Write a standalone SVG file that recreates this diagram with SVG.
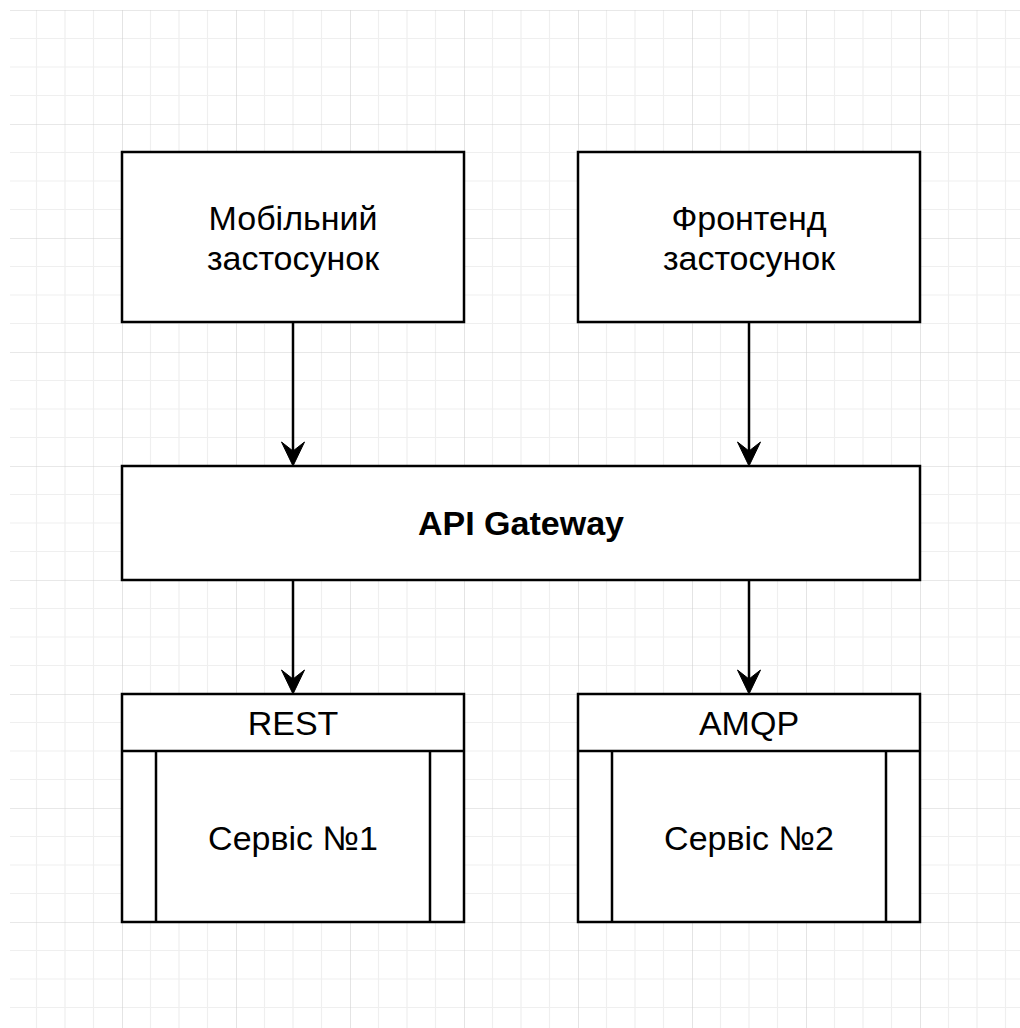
<svg xmlns="http://www.w3.org/2000/svg" width="1020" height="1028" viewBox="0 0 1020 1028">
  <style>
    .box { fill: #ffffff; stroke: #000000; stroke-width: 2.5; }
    .ln { fill: none; stroke: #000000; stroke-width: 2.5; }
    .t { font-family: "Liberation Sans", Arial, Helvetica, sans-serif; font-size: 34px; fill: #000000; text-anchor: middle; }
    .b { font-weight: bold; }
    .edge { fill: none; stroke: #000000; stroke-width: 2.5; marker-end: url(#arrow); }
  </style>
  <defs>
    <pattern id="grid" patternUnits="userSpaceOnUse" x="8" y="10" width="114" height="114">
      <path d="M28.5 0V114M57 0V114M85.5 0V114M0 28.5H114M0 57H114M0 85.5H114" fill="none" stroke="#efefef" stroke-width="1.2"/>
      <path d="M0 0V114M0 0H114" fill="none" stroke="#d2d2d2" stroke-width="1.2"/>
    </pattern>
    <marker id="arrow" markerUnits="userSpaceOnUse" viewBox="-16 -13 28 26" refX="0" refY="0" markerWidth="28" markerHeight="26" orient="auto" overflow="visible">
      <path d="M10 0L-14 -11.5L-5 0L-14 11.5Z" fill="#000000" stroke="#000000" stroke-width="1"/>
    </marker>
  </defs>
  <rect width="1020" height="1028" fill="#ffffff"/>
  <rect x="10" y="10" width="1010" height="1018" fill="url(#grid)"/>

  <g id="connectors">
    <path class="edge" d="M293 322V456"/>
    <path class="edge" d="M749 322V456"/>
    <path class="edge" d="M293 580V684"/>
    <path class="edge" d="M749 580V684"/>
  </g>

  <g id="mobile">
    <rect class="box" x="122" y="152" width="342" height="170"/>
    <text class="t" x="293" y="230">Мобільний</text>
    <text class="t" x="293" y="270">застосунок</text>
  </g>

  <g id="frontend">
    <rect class="box" x="578" y="152" width="342" height="170"/>
    <text class="t" x="749" y="230">Фронтенд</text>
    <text class="t" x="749" y="270">застосунок</text>
  </g>

  <g id="gateway">
    <rect class="box" x="122" y="466" width="798" height="114"/>
    <text class="t b" x="521" y="535">API Gateway</text>
  </g>

  <g id="service1">
    <rect class="box" x="122" y="694" width="342" height="228"/>
    <path class="ln" d="M122 751H464M156 751V922M430 751V922"/>
    <text class="t" x="293" y="735">REST</text>
    <text class="t" x="293" y="850">Сервіс №1</text>
  </g>

  <g id="service2">
    <rect class="box" x="578" y="694" width="342" height="228"/>
    <path class="ln" d="M578 751H920M612 751V922M886 751V922"/>
    <text class="t" x="749" y="735">AMQP</text>
    <text class="t" x="749" y="850">Сервіс №2</text>
  </g>
</svg>
